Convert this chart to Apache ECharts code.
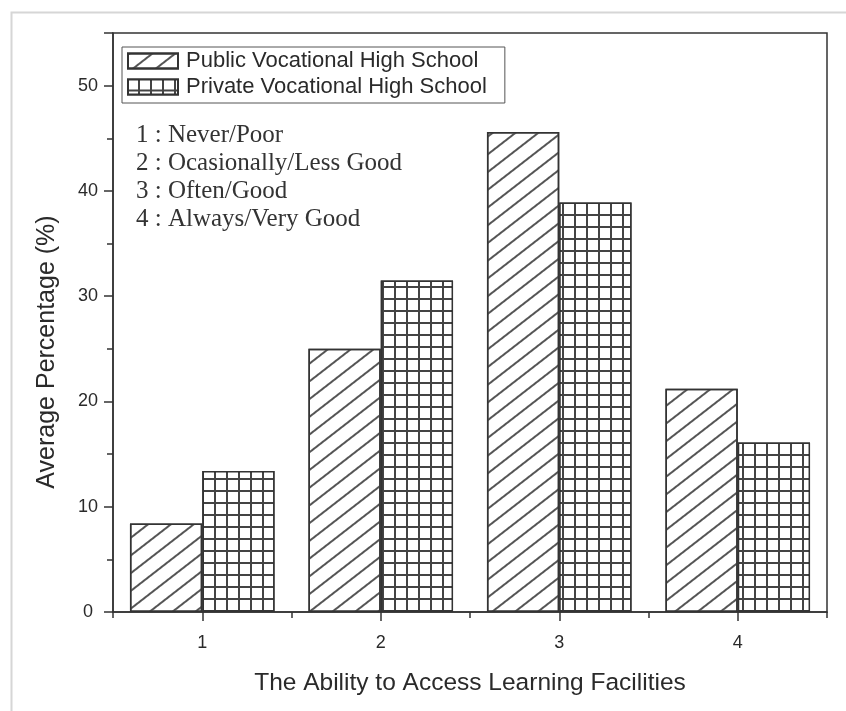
<!DOCTYPE html>
<html>
<head>
<meta charset="utf-8">
<script src="https://cdn.jsdelivr.net/npm/echarts@6/dist/echarts.min.js"></script>
<style>html,body{margin:0;padding:0;background:#fff}#c{width:846px;height:711px}</style>
</head>
<body>
<div id="c"></div>
<script>
var categories = ['1', '2', '3', '4'];
var publicValues = [8.4, 25.0, 45.6, 21.2];
var privateValues = [13.4, 31.5, 38.9, 16.1];
var seriesNames = ['Public Vocational High School', 'Private Vocational High School'];
var notes = ['1 : Never/Poor', '2 : Ocasionally/Less Good', '3 : Often/Good', '4 : Always/Very Good'];
var yTicks = { min: 0, max: 55, interval: 10 };
var yTitle = 'Average Percentage (%)';
var xTitle = 'The Ability to Access Learning Facilities';

var chart = echarts.init(document.getElementById('c'), null, { renderer: 'canvas' });
var axisColor = '#333';
var textColor = '#2a2a2a';
var sans = '"Liberation Sans", Arial, sans-serif';

var noteGraphics = notes.map(function (t, i) {
  return {
    type: 'text', left: 136, top: 123 + i * 28,
    style: { text: t, font: '25px "Liberation Serif", serif', fill: '#333' }
  };
});

chart.setOption({
  animation: false,
  backgroundColor: '#fff',
  grid: { left: 113, right: 19, top: 33, bottom: 99, show: true, borderColor: axisColor, borderWidth: 1.5, backgroundColor: 'transparent' },
  legend: {
    orient: 'vertical', left: 122, top: 47, padding: [3, 18, 5, 5], itemGap: 4,
    itemWidth: 50, itemHeight: 15, icon: 'rect',
    borderColor: '#555', borderWidth: 1,
    textStyle: { fontFamily: sans, fontSize: 22, color: textColor, padding: [0, 0, 0, 3] },
    data: seriesNames
  },
  xAxis: [{
    type: 'category', data: categories, position: 'bottom',
    name: xTitle, nameLocation: 'middle', nameGap: 59,
    nameTextStyle: { fontFamily: sans, fontSize: 24.5, color: textColor },
    axisLine: { show: true, lineStyle: { color: axisColor, width: 1.5 } },
    axisTick: { show: true, alignWithLabel: true, length: 9, inside: false, lineStyle: { color: axisColor, width: 1.5 } },
    axisLabel: { fontFamily: sans, fontSize: 18, color: textColor, margin: 22 },
    splitLine: { show: false }
  }, {
    type: 'category', data: categories, position: 'bottom',
    axisLine: { show: false },
    axisTick: { show: true, length: 6, inside: false, lineStyle: { color: axisColor, width: 1.5 } },
    axisLabel: { show: false },
    splitLine: { show: false }
  }],
  yAxis: {
    type: 'value', min: yTicks.min, max: yTicks.max, interval: yTicks.interval,
    axisLine: { show: true, lineStyle: { color: axisColor, width: 1.5 } },
    axisTick: { show: true, length: 9, inside: false, lineStyle: { color: axisColor, width: 1.5 } },
    minorTick: { show: true, splitNumber: 2, length: 6, lineStyle: { color: axisColor, width: 1.5 } },
    axisLabel: { fontFamily: sans, fontSize: 18, color: textColor, margin: 25, align: 'center',
      formatter: function (v) { return v % 10 === 0 && v <= 50 ? String(v) : ''; } },
    splitLine: { show: false }
  },
  series: [{
    name: seriesNames[0], type: 'bar', data: publicValues, xAxisIndex: 0,
    barGap: '0%', barCategoryGap: '19%',
    itemStyle: {
      color: '#fff', borderColor: '#333', borderWidth: 1.5,
      decal: { symbol: 'rect', symbolSize: 1, color: '#555', dashArrayX: [1, 0], dashArrayY: [1.2, 11.5], rotation: -0.66 }
    }
  }, {
    name: seriesNames[1], type: 'bar', data: privateValues, xAxisIndex: 0,
    barGap: '0%', barCategoryGap: '19%',
    itemStyle: {
      color: '#444', borderColor: '#333', borderWidth: 1.5,
      decal: { symbol: 'rect', symbolSize: 1, color: '#fff', dashArrayX: [10, 1.7], dashArrayY: [10, 1.7] }
    }
  }],
  graphic: [{
    type: 'rect', left: 9, top: 10, z: -10, silent: true,
    shape: { width: 900, height: 800 },
    style: { fill: 'none', stroke: '#d6d6d6', lineWidth: 2 }
  }, {
    type: 'text', x: 47, y: 352, rotation: Math.PI / 2, silent: true,
    style: { text: yTitle, font: '25px ' + sans, fill: textColor, align: 'center', verticalAlign: 'middle' }
  }].concat(noteGraphics)
});
</script>
</body>
</html>
